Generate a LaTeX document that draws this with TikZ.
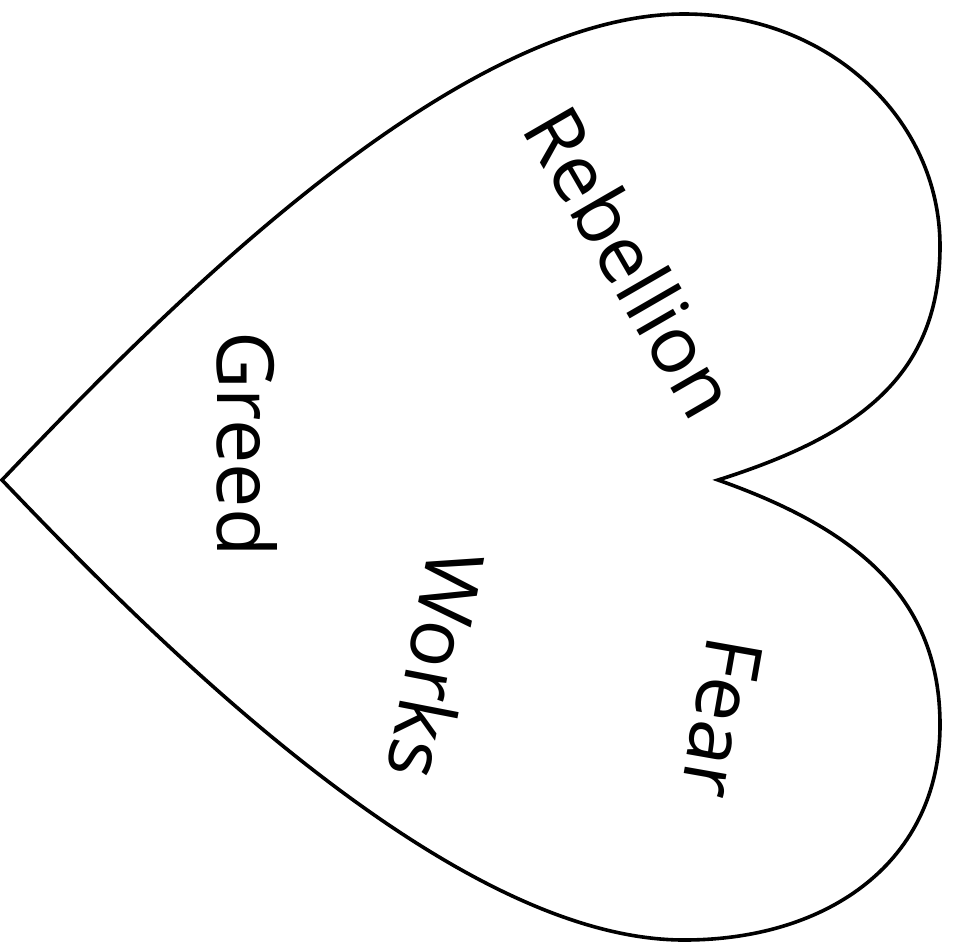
\documentclass[tikz,border=0pt]{standalone}
\usepackage{fontspec}
\setmainfont{Open Sans}
\begin{document}
\begin{tikzpicture}[x=1pt,y=-1pt,
  heartline/.style={draw=black,line width=3.6pt,line join=miter},
  word/.style={inner sep=0pt,font=\fontsize{79}{81}\selectfont}]
\useasboundingbox (0,0) rectangle (955,945);
\coordinate (tip) at (2,480);
\coordinate (notch) at (718,480);
\draw[heartline] (tip) .. controls (150,325) and (450,14) .. (684,14)
  .. controls (830,14) and (940,120) .. (940,246)
  .. controls (940,375) and (860,435) .. (notch)
  .. controls (860,530) and (940,600) .. (940,725)
  .. controls (940,860) and (830,940) .. (684,940)
  .. controls (450,940) and (150,635) .. (tip) -- cycle;
\node[word,rotate=-60] (rebellion) at (632,262) {Rebellion};
\node[word,rotate=-90] (greed) at (247,444) {Greed};
\node[word,rotate=-101] (works) at (437,665) {Works};
\node[word,rotate=-100] (fear) at (722,718) {Fear};
\end{tikzpicture}
\end{document}
